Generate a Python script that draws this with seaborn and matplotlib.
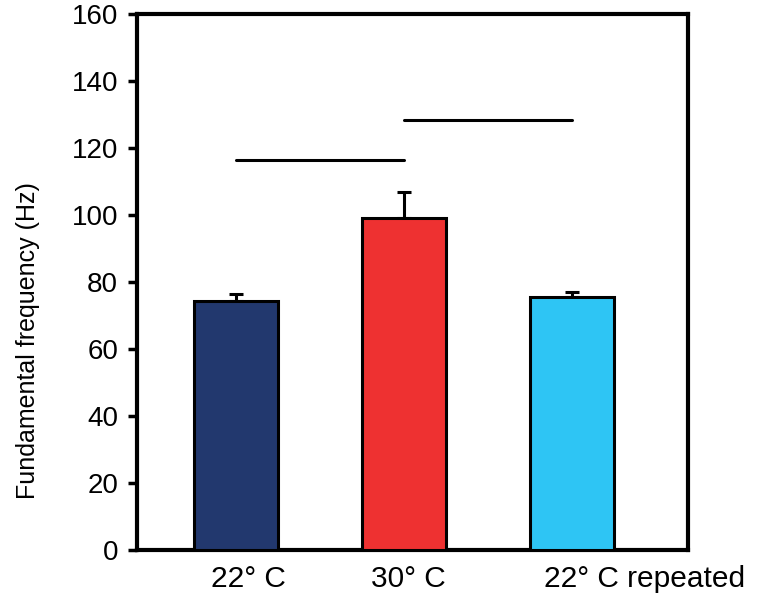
import matplotlib
matplotlib.use("Agg")
import matplotlib.pyplot as plt
import matplotlib.transforms as mtransforms
import seaborn as sns
import pandas as pd

# values
conditions = ["22\u00b0 C", "30\u00b0 C", "22\u00b0 C repeated"]
mean_freq = [74.3, 99.2, 75.5]
sem_freq = [2.2, 7.7, 1.5]
bar_colors = ["#22386e", "#ee3131", "#2ec5f4"]

# significance lines (start cat, end cat, height)
sig_from = [0, 1]
sig_to = [1, 2]
sig_y = [116.5, 128.5]

df = pd.DataFrame({"condition": conditions, "freq": mean_freq})

sns.set_style("white")
plt.rcParams["font.family"] = ["Liberation Sans", "DejaVu Sans"]
plt.rcParams["text.color"] = "black"
plt.rcParams["axes.labelcolor"] = "black"
plt.rcParams["xtick.color"] = "black"
plt.rcParams["ytick.color"] = "black"

fig = plt.figure(figsize=(7.67, 6.09), dpi=100)
ax = fig.add_axes([0.1786, 0.0969, 0.7184, 0.8801])

sns.barplot(data=df, x="condition", y="freq", hue="condition",
            palette=bar_colors, saturation=1, legend=False, width=0.5,
            edgecolor="black", linewidth=2.2, errorbar=None, ax=ax, zorder=3)

# upper error bars only
ax.errorbar(range(len(conditions)), mean_freq,
            yerr=[[0] * len(sem_freq), sem_freq],
            fmt="none", ecolor="black", elinewidth=2.2, capsize=5,
            capthick=2.2, zorder=2)

for a, b, y in zip(sig_from, sig_to, sig_y):
    ax.plot([a, b], [y, y], color="black", lw=2.2, solid_capstyle="round")

ax.set_ylim(0, 160)
ax.set_xlim(-0.59, 2.69)
ax.set_yticks(range(0, 161, 20))
ax.set_xlabel("")
ax.set_ylabel("Fundamental frequency (Hz)", fontsize=18)
ax.yaxis.set_label_coords(-0.176, 0.39)
ax.tick_params(axis="y", direction="out", length=6.5, width=2.5,
               labelsize=20, left=True, pad=7)
ax.tick_params(axis="x", length=0, labelsize=21.5, pad=11)

for s in ax.spines.values():
    s.set_visible(True)
    s.set_color("black")
    s.set_linewidth(3)

# nudge x tick labels like in the original
offsets = [9, 3, 52]
for lbl, dx in zip(ax.get_xticklabels(), offsets):
    lbl.set_transform(lbl.get_transform() +
                      mtransforms.ScaledTranslation(dx / 72, 0, fig.dpi_scale_trans))

fig.savefig("out.png", dpi=100)
